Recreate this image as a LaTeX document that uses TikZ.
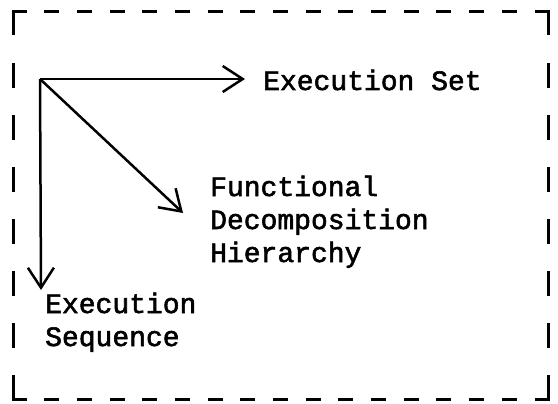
\documentclass[tikz,border=0pt]{standalone}
\usepackage{fontspec}
\setmonofont[FakeBold=2]{Liberation Mono}
\usetikzlibrary{arrows.meta, positioning}
\tikzset{
	labelnode/.style={
			font=\ttfamily\fontsize{28}{33}\selectfont,
			align=left,
			anchor=base west,
			inner sep=0pt
		},
	axisline/.style={
			line width=2.5pt,
			-{Straight Barb[length=20pt,width=26pt]}
		},
	hborder/.style={
			line width=3pt,
			line cap=rect,
			dash pattern=on 12pt off 20.69pt
		},
	vborder/.style={
			line width=3pt,
			line cap=rect,
			dash pattern=on 22pt off 30.14pt
		}
}

\begin{document}
\begin{tikzpicture}[x=1pt, y=-1pt]
				\useasboundingbox (0,0) rectangle (558,404);

				\coordinate (tl) at (13,12);
				\coordinate (tr) at (548,12);
				\coordinate (bl) at (13,399);
				\coordinate (br) at (548,399);

				\draw[hborder] (tl) -- (tr);
				\draw[hborder] (bl) -- (br);
				\draw[vborder] (tl) -- (bl);
				\draw[vborder] (tr) -- (br);

				% base anchor sits on the last line
				\coordinate (o) at (40,79);
				\node[labelnode] at (263,90) (set) {Execution Set};
				\node[labelnode] at (210,262) (fdh) {Functional\\Decomposition\\Hierarchy};
				\node[labelnode] at (45,346) (seq) {Execution\\Sequence};

				\coordinate (settip) at (245,79);
				\coordinate (fdhtip) at (183,213);
				\coordinate (seqtip) at (41,290);

				\draw[axisline] (o) -- (settip);
				\draw[axisline] (o) -- (fdhtip);
				\draw[axisline] (o) -- (seqtip);
			\end{tikzpicture}
\end{document}
